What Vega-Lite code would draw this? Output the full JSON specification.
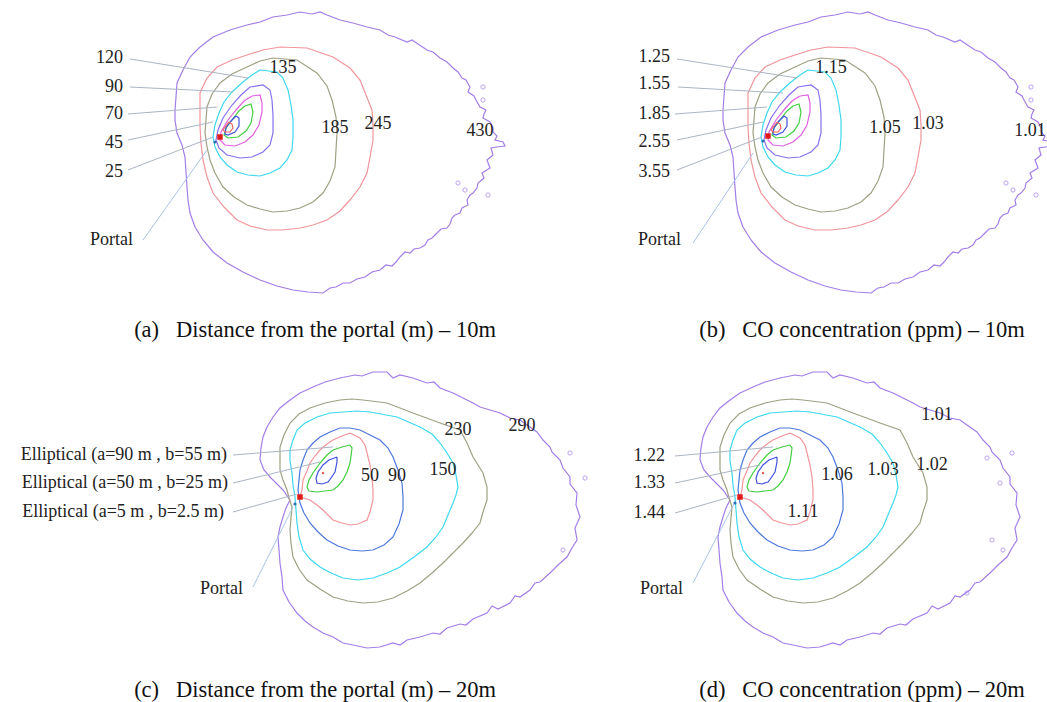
{
"$schema": "https://vega.github.io/schema/vega-lite/v6.json",
"width": 1047, "height": 702,
"autosize": {"type": "fit", "contains": "padding"},
"padding": 0,
"background": "white",
"config": {"view": {"stroke": null}},
"datasets": {
"lines": [
{"id":"a1","k":"v","x":247,"y":25},{"id":"a1","k":"v","x":260,"y":22},{"id":"a1","k":"v","x":273,"y":17},{"id":"a1","k":"v","x":287,"y":15},{"id":"a1","k":"v","x":300,"y":12},{"id":"a1","k":"v","x":312,"y":14},{"id":"a1","k":"v","x":320,"y":12},{"id":"a1","k":"v","x":327,"y":15},{"id":"a1","k":"v","x":340,"y":20},{"id":"a1","k":"v","x":353,"y":23},{"id":"a1","k":"v","x":367,"y":27},{"id":"a1","k":"v","x":380,"y":30},{"id":"a1","k":"v","x":388,"y":35},{"id":"a1","k":"v","x":395,"y":37},{"id":"a1","k":"v","x":407,"y":42},{"id":"a1","k":"v","x":412,"y":40},{"id":"a1","k":"v","x":418,"y":44},{"id":"a1","k":"v","x":427,"y":50},{"id":"a1","k":"v","x":433,"y":52},{"id":"a1","k":"v","x":440,"y":58},{"id":"a1","k":"v","x":447,"y":62},{"id":"a1","k":"v","x":453,"y":68},{"id":"a1","k":"v","x":458,"y":72},{"id":"a1","k":"v","x":462,"y":78},{"id":"a1","k":"v","x":466,"y":80},{"id":"a1","k":"v","x":470,"y":87},{"id":"a1","k":"v","x":468,"y":92},{"id":"a1","k":"v","x":474,"y":96},{"id":"a1","k":"v","x":476,"y":100},{"id":"a1","k":"v","x":480,"y":107},{"id":"a1","k":"v","x":486,"y":110},{"id":"a1","k":"v","x":484,"y":114},{"id":"a1","k":"v","x":483,"y":118},{"id":"a1","k":"v","x":490,"y":122},{"id":"a1","k":"v","x":493,"y":128},{"id":"a1","k":"v","x":493,"y":132},{"id":"a1","k":"v","x":497,"y":136},{"id":"a1","k":"v","x":495,"y":140},{"id":"a1","k":"v","x":503,"y":142},{"id":"a1","k":"v","x":505,"y":146},{"id":"a1","k":"v","x":497,"y":147},{"id":"a1","k":"v","x":491,"y":148},{"id":"a1","k":"v","x":493,"y":155},{"id":"a1","k":"v","x":487,"y":160},{"id":"a1","k":"v","x":490,"y":168},{"id":"a1","k":"v","x":482,"y":173},{"id":"a1","k":"v","x":484,"y":178},{"id":"a1","k":"v","x":478,"y":183},{"id":"a1","k":"v","x":477,"y":188},{"id":"a1","k":"v","x":473,"y":193},{"id":"a1","k":"v","x":470,"y":195},{"id":"a1","k":"v","x":467,"y":200},{"id":"a1","k":"v","x":468,"y":205},{"id":"a1","k":"v","x":462,"y":208},{"id":"a1","k":"v","x":460,"y":213},{"id":"a1","k":"v","x":455,"y":215},{"id":"a1","k":"v","x":452,"y":218},{"id":"a1","k":"v","x":450,"y":224},{"id":"a1","k":"v","x":447,"y":228},{"id":"a1","k":"v","x":441,"y":229},{"id":"a1","k":"v","x":437,"y":233},{"id":"a1","k":"v","x":432,"y":238},{"id":"a1","k":"v","x":428,"y":240},{"id":"a1","k":"v","x":425,"y":245},{"id":"a1","k":"v","x":420,"y":248},{"id":"a1","k":"v","x":414,"y":249},{"id":"a1","k":"v","x":410,"y":253},{"id":"a1","k":"v","x":405,"y":252},{"id":"a1","k":"v","x":400,"y":257},{"id":"a1","k":"v","x":396,"y":262},{"id":"a1","k":"v","x":392,"y":266},{"id":"a1","k":"v","x":386,"y":265},{"id":"a1","k":"v","x":380,"y":270},{"id":"a1","k":"v","x":372,"y":272},{"id":"a1","k":"v","x":365,"y":277},{"id":"a1","k":"v","x":357,"y":279},{"id":"a1","k":"v","x":350,"y":283},{"id":"a1","k":"v","x":343,"y":283},{"id":"a1","k":"v","x":336,"y":287},{"id":"a1","k":"v","x":330,"y":288},{"id":"a1","k":"v","x":323,"y":293},{"id":"a1","k":"v","x":308,"y":292},{"id":"a1","k":"v","x":293,"y":290},{"id":"a1","k":"v","x":277,"y":286},{"id":"a1","k":"v","x":260,"y":280},{"id":"a1","k":"v","x":243,"y":272},{"id":"a1","k":"v","x":227,"y":263},{"id":"a1","k":"v","x":213,"y":252},{"id":"a1","k":"v","x":203,"y":240},{"id":"a1","k":"v","x":195,"y":227},{"id":"a1","k":"v","x":190,"y":213},{"id":"a1","k":"v","x":188,"y":200},{"id":"a1","k":"v","x":187,"y":187},{"id":"a1","k":"v","x":186,"y":172},{"id":"a1","k":"v","x":185,"y":157},{"id":"a1","k":"v","x":182,"y":145},{"id":"a1","k":"v","x":177,"y":133},{"id":"a1","k":"v","x":175,"y":120},{"id":"a1","k":"v","x":175,"y":110},{"id":"a1","k":"v","x":176,"y":97},{"id":"a1","k":"v","x":177,"y":83},{"id":"a1","k":"v","x":183,"y":70},{"id":"a1","k":"v","x":190,"y":57},{"id":"a1","k":"v","x":200,"y":47},{"id":"a1","k":"v","x":213,"y":37},{"id":"a1","k":"v","x":230,"y":30},{"id":"a1","k":"v","x":247,"y":25},
{"id":"a2","k":"p","x":280,"y":47},{"id":"a2","k":"p","x":307,"y":48},{"id":"a2","k":"p","x":333,"y":57},{"id":"a2","k":"p","x":350,"y":68},{"id":"a2","k":"p","x":360,"y":80},{"id":"a2","k":"p","x":366,"y":95},{"id":"a2","k":"p","x":372,"y":110},{"id":"a2","k":"p","x":373,"y":125},{"id":"a2","k":"p","x":373,"y":140},{"id":"a2","k":"p","x":370,"y":157},{"id":"a2","k":"p","x":367,"y":173},{"id":"a2","k":"p","x":360,"y":187},{"id":"a2","k":"p","x":350,"y":200},{"id":"a2","k":"p","x":340,"y":211},{"id":"a2","k":"p","x":327,"y":220},{"id":"a2","k":"p","x":313,"y":225},{"id":"a2","k":"p","x":300,"y":228},{"id":"a2","k":"p","x":283,"y":230},{"id":"a2","k":"p","x":267,"y":230},{"id":"a2","k":"p","x":250,"y":226},{"id":"a2","k":"p","x":237,"y":220},{"id":"a2","k":"p","x":224,"y":207},{"id":"a2","k":"p","x":213,"y":193},{"id":"a2","k":"p","x":207,"y":177},{"id":"a2","k":"p","x":203,"y":160},{"id":"a2","k":"p","x":201,"y":143},{"id":"a2","k":"p","x":200,"y":127},{"id":"a2","k":"p","x":200,"y":110},{"id":"a2","k":"p","x":200,"y":93},{"id":"a2","k":"p","x":207,"y":78},{"id":"a2","k":"p","x":217,"y":67},{"id":"a2","k":"p","x":232,"y":60},{"id":"a2","k":"p","x":247,"y":55},{"id":"a2","k":"p","x":263,"y":50},{"id":"a2","k":"p","x":280,"y":47},
{"id":"a3","k":"o","x":273,"y":58},{"id":"a3","k":"o","x":297,"y":60},{"id":"a3","k":"o","x":317,"y":73},{"id":"a3","k":"o","x":327,"y":86},{"id":"a3","k":"o","x":332,"y":100},{"id":"a3","k":"o","x":336,"y":117},{"id":"a3","k":"o","x":337,"y":133},{"id":"a3","k":"o","x":336,"y":150},{"id":"a3","k":"o","x":335,"y":167},{"id":"a3","k":"o","x":330,"y":181},{"id":"a3","k":"o","x":323,"y":193},{"id":"a3","k":"o","x":313,"y":202},{"id":"a3","k":"o","x":300,"y":208},{"id":"a3","k":"o","x":287,"y":211},{"id":"a3","k":"o","x":273,"y":212},{"id":"a3","k":"o","x":260,"y":209},{"id":"a3","k":"o","x":247,"y":205},{"id":"a3","k":"o","x":234,"y":197},{"id":"a3","k":"o","x":223,"y":187},{"id":"a3","k":"o","x":215,"y":173},{"id":"a3","k":"o","x":210,"y":160},{"id":"a3","k":"o","x":207,"y":147},{"id":"a3","k":"o","x":205,"y":133},{"id":"a3","k":"o","x":206,"y":120},{"id":"a3","k":"o","x":207,"y":107},{"id":"a3","k":"o","x":212,"y":94},{"id":"a3","k":"o","x":220,"y":83},{"id":"a3","k":"o","x":232,"y":74},{"id":"a3","k":"o","x":247,"y":67},{"id":"a3","k":"o","x":260,"y":61},{"id":"a3","k":"o","x":273,"y":58},
{"id":"a4","k":"c","x":260,"y":70},{"id":"a4","k":"c","x":277,"y":72},{"id":"a4","k":"c","x":283,"y":78},{"id":"a4","k":"c","x":288,"y":90},{"id":"a4","k":"c","x":291,"y":105},{"id":"a4","k":"c","x":293,"y":120},{"id":"a4","k":"c","x":293,"y":137},{"id":"a4","k":"c","x":292,"y":150},{"id":"a4","k":"c","x":287,"y":160},{"id":"a4","k":"c","x":280,"y":168},{"id":"a4","k":"c","x":270,"y":173},{"id":"a4","k":"c","x":260,"y":176},{"id":"a4","k":"c","x":248,"y":175},{"id":"a4","k":"c","x":237,"y":172},{"id":"a4","k":"c","x":227,"y":165},{"id":"a4","k":"c","x":220,"y":157},{"id":"a4","k":"c","x":215,"y":147},{"id":"a4","k":"c","x":213,"y":137},{"id":"a4","k":"c","x":215,"y":125},{"id":"a4","k":"c","x":219,"y":113},{"id":"a4","k":"c","x":224,"y":102},{"id":"a4","k":"c","x":232,"y":92},{"id":"a4","k":"c","x":243,"y":82},{"id":"a4","k":"c","x":252,"y":75},{"id":"a4","k":"c","x":260,"y":70},
{"id":"a5","k":"l","x":250,"y":87},{"id":"a5","k":"l","x":263,"y":85},{"id":"a5","k":"l","x":270,"y":90},{"id":"a5","k":"l","x":272,"y":100},{"id":"a5","k":"l","x":273,"y":115},{"id":"a5","k":"l","x":273,"y":133},{"id":"a5","k":"l","x":270,"y":145},{"id":"a5","k":"l","x":263,"y":152},{"id":"a5","k":"l","x":252,"y":157},{"id":"a5","k":"l","x":240,"y":158},{"id":"a5","k":"l","x":227,"y":155},{"id":"a5","k":"l","x":219,"y":148},{"id":"a5","k":"l","x":216,"y":140},{"id":"a5","k":"l","x":218,"y":130},{"id":"a5","k":"l","x":223,"y":118},{"id":"a5","k":"l","x":232,"y":105},{"id":"a5","k":"l","x":241,"y":95},{"id":"a5","k":"l","x":250,"y":87},
{"id":"a6","k":"m","x":252,"y":96},{"id":"a6","k":"m","x":260,"y":95},{"id":"a6","k":"m","x":262,"y":103},{"id":"a6","k":"m","x":262,"y":112},{"id":"a6","k":"m","x":259,"y":125},{"id":"a6","k":"m","x":253,"y":135},{"id":"a6","k":"m","x":245,"y":142},{"id":"a6","k":"m","x":235,"y":146},{"id":"a6","k":"m","x":225,"y":145},{"id":"a6","k":"m","x":220,"y":140},{"id":"a6","k":"m","x":221,"y":132},{"id":"a6","k":"m","x":228,"y":120},{"id":"a6","k":"m","x":236,"y":110},{"id":"a6","k":"m","x":244,"y":101},{"id":"a6","k":"m","x":252,"y":96},
{"id":"a7","k":"g","x":245,"y":106},{"id":"a7","k":"g","x":251,"y":104},{"id":"a7","k":"g","x":253,"y":112},{"id":"a7","k":"g","x":251,"y":123},{"id":"a7","k":"g","x":246,"y":131},{"id":"a7","k":"g","x":238,"y":137},{"id":"a7","k":"g","x":228,"y":138},{"id":"a7","k":"g","x":224,"y":135},{"id":"a7","k":"g","x":226,"y":128},{"id":"a7","k":"g","x":232,"y":120},{"id":"a7","k":"g","x":239,"y":111},{"id":"a7","k":"g","x":245,"y":106},
{"id":"a8","k":"b","x":236,"y":116},{"id":"a8","k":"b","x":239,"y":118},{"id":"a8","k":"b","x":239,"y":126},{"id":"a8","k":"b","x":235,"y":132},{"id":"a8","k":"b","x":228,"y":135},{"id":"a8","k":"b","x":225,"y":134},{"id":"a8","k":"b","x":226,"y":128},{"id":"a8","k":"b","x":230,"y":122},{"id":"a8","k":"b","x":236,"y":116},
{"id":"a9","k":"r","x":229,"y":122},{"id":"a9","k":"r","x":232,"y":124},{"id":"a9","k":"r","x":233,"y":128},{"id":"a9","k":"r","x":230,"y":132},{"id":"a9","k":"r","x":225,"y":132},{"id":"a9","k":"r","x":223,"y":130},{"id":"a9","k":"r","x":226,"y":126},{"id":"a9","k":"r","x":229,"y":122},
{"id":"b1","k":"v","x":795,"y":25},{"id":"b1","k":"v","x":808,"y":22},{"id":"b1","k":"v","x":821,"y":17},{"id":"b1","k":"v","x":835,"y":15},{"id":"b1","k":"v","x":848,"y":12},{"id":"b1","k":"v","x":860,"y":14},{"id":"b1","k":"v","x":868,"y":12},{"id":"b1","k":"v","x":875,"y":15},{"id":"b1","k":"v","x":888,"y":20},{"id":"b1","k":"v","x":901,"y":23},{"id":"b1","k":"v","x":915,"y":27},{"id":"b1","k":"v","x":928,"y":30},{"id":"b1","k":"v","x":936,"y":35},{"id":"b1","k":"v","x":943,"y":37},{"id":"b1","k":"v","x":955,"y":42},{"id":"b1","k":"v","x":960,"y":40},{"id":"b1","k":"v","x":966,"y":44},{"id":"b1","k":"v","x":975,"y":50},{"id":"b1","k":"v","x":981,"y":52},{"id":"b1","k":"v","x":988,"y":58},{"id":"b1","k":"v","x":995,"y":62},{"id":"b1","k":"v","x":1001,"y":68},{"id":"b1","k":"v","x":1006,"y":72},{"id":"b1","k":"v","x":1010,"y":78},{"id":"b1","k":"v","x":1014,"y":80},{"id":"b1","k":"v","x":1018,"y":87},{"id":"b1","k":"v","x":1016,"y":92},{"id":"b1","k":"v","x":1022,"y":96},{"id":"b1","k":"v","x":1024,"y":100},{"id":"b1","k":"v","x":1028,"y":107},{"id":"b1","k":"v","x":1034,"y":110},{"id":"b1","k":"v","x":1032,"y":114},{"id":"b1","k":"v","x":1031,"y":118},{"id":"b1","k":"v","x":1038,"y":122},{"id":"b1","k":"v","x":1041,"y":128},{"id":"b1","k":"v","x":1041,"y":132},{"id":"b1","k":"v","x":1045,"y":136},{"id":"b1","k":"v","x":1043,"y":140},{"id":"b1","k":"v","x":1051,"y":142},{"id":"b1","k":"v","x":1053,"y":146},{"id":"b1","k":"v","x":1045,"y":147},{"id":"b1","k":"v","x":1039,"y":148},{"id":"b1","k":"v","x":1041,"y":155},{"id":"b1","k":"v","x":1035,"y":160},{"id":"b1","k":"v","x":1038,"y":168},{"id":"b1","k":"v","x":1030,"y":173},{"id":"b1","k":"v","x":1032,"y":178},{"id":"b1","k":"v","x":1026,"y":183},{"id":"b1","k":"v","x":1025,"y":188},{"id":"b1","k":"v","x":1021,"y":193},{"id":"b1","k":"v","x":1018,"y":195},{"id":"b1","k":"v","x":1015,"y":200},{"id":"b1","k":"v","x":1016,"y":205},{"id":"b1","k":"v","x":1010,"y":208},{"id":"b1","k":"v","x":1008,"y":213},{"id":"b1","k":"v","x":1003,"y":215},{"id":"b1","k":"v","x":1000,"y":218},{"id":"b1","k":"v","x":998,"y":224},{"id":"b1","k":"v","x":995,"y":228},{"id":"b1","k":"v","x":989,"y":229},{"id":"b1","k":"v","x":985,"y":233},{"id":"b1","k":"v","x":980,"y":238},{"id":"b1","k":"v","x":976,"y":240},{"id":"b1","k":"v","x":973,"y":245},{"id":"b1","k":"v","x":968,"y":248},{"id":"b1","k":"v","x":962,"y":249},{"id":"b1","k":"v","x":958,"y":253},{"id":"b1","k":"v","x":953,"y":252},{"id":"b1","k":"v","x":948,"y":257},{"id":"b1","k":"v","x":944,"y":262},{"id":"b1","k":"v","x":940,"y":266},{"id":"b1","k":"v","x":934,"y":265},{"id":"b1","k":"v","x":928,"y":270},{"id":"b1","k":"v","x":920,"y":272},{"id":"b1","k":"v","x":913,"y":277},{"id":"b1","k":"v","x":905,"y":279},{"id":"b1","k":"v","x":898,"y":283},{"id":"b1","k":"v","x":891,"y":283},{"id":"b1","k":"v","x":884,"y":287},{"id":"b1","k":"v","x":878,"y":288},{"id":"b1","k":"v","x":871,"y":293},{"id":"b1","k":"v","x":856,"y":292},{"id":"b1","k":"v","x":841,"y":290},{"id":"b1","k":"v","x":825,"y":286},{"id":"b1","k":"v","x":808,"y":280},{"id":"b1","k":"v","x":791,"y":272},{"id":"b1","k":"v","x":775,"y":263},{"id":"b1","k":"v","x":761,"y":252},{"id":"b1","k":"v","x":751,"y":240},{"id":"b1","k":"v","x":743,"y":227},{"id":"b1","k":"v","x":738,"y":213},{"id":"b1","k":"v","x":736,"y":200},{"id":"b1","k":"v","x":735,"y":187},{"id":"b1","k":"v","x":734,"y":172},{"id":"b1","k":"v","x":733,"y":157},{"id":"b1","k":"v","x":730,"y":145},{"id":"b1","k":"v","x":725,"y":133},{"id":"b1","k":"v","x":723,"y":120},{"id":"b1","k":"v","x":723,"y":110},{"id":"b1","k":"v","x":724,"y":97},{"id":"b1","k":"v","x":725,"y":83},{"id":"b1","k":"v","x":731,"y":70},{"id":"b1","k":"v","x":738,"y":57},{"id":"b1","k":"v","x":748,"y":47},{"id":"b1","k":"v","x":761,"y":37},{"id":"b1","k":"v","x":778,"y":30},{"id":"b1","k":"v","x":795,"y":25},
{"id":"b2","k":"p","x":828,"y":47},{"id":"b2","k":"p","x":855,"y":48},{"id":"b2","k":"p","x":881,"y":57},{"id":"b2","k":"p","x":898,"y":68},{"id":"b2","k":"p","x":908,"y":80},{"id":"b2","k":"p","x":914,"y":95},{"id":"b2","k":"p","x":920,"y":110},{"id":"b2","k":"p","x":921,"y":125},{"id":"b2","k":"p","x":921,"y":140},{"id":"b2","k":"p","x":918,"y":157},{"id":"b2","k":"p","x":915,"y":173},{"id":"b2","k":"p","x":908,"y":187},{"id":"b2","k":"p","x":898,"y":200},{"id":"b2","k":"p","x":888,"y":211},{"id":"b2","k":"p","x":875,"y":220},{"id":"b2","k":"p","x":861,"y":225},{"id":"b2","k":"p","x":848,"y":228},{"id":"b2","k":"p","x":831,"y":230},{"id":"b2","k":"p","x":815,"y":230},{"id":"b2","k":"p","x":798,"y":226},{"id":"b2","k":"p","x":785,"y":220},{"id":"b2","k":"p","x":772,"y":207},{"id":"b2","k":"p","x":761,"y":193},{"id":"b2","k":"p","x":755,"y":177},{"id":"b2","k":"p","x":751,"y":160},{"id":"b2","k":"p","x":749,"y":143},{"id":"b2","k":"p","x":748,"y":127},{"id":"b2","k":"p","x":748,"y":110},{"id":"b2","k":"p","x":748,"y":93},{"id":"b2","k":"p","x":755,"y":78},{"id":"b2","k":"p","x":765,"y":67},{"id":"b2","k":"p","x":780,"y":60},{"id":"b2","k":"p","x":795,"y":55},{"id":"b2","k":"p","x":811,"y":50},{"id":"b2","k":"p","x":828,"y":47},
{"id":"b3","k":"o","x":821,"y":58},{"id":"b3","k":"o","x":845,"y":60},{"id":"b3","k":"o","x":865,"y":73},{"id":"b3","k":"o","x":875,"y":86},{"id":"b3","k":"o","x":880,"y":100},{"id":"b3","k":"o","x":884,"y":117},{"id":"b3","k":"o","x":885,"y":133},{"id":"b3","k":"o","x":884,"y":150},{"id":"b3","k":"o","x":883,"y":167},{"id":"b3","k":"o","x":878,"y":181},{"id":"b3","k":"o","x":871,"y":193},{"id":"b3","k":"o","x":861,"y":202},{"id":"b3","k":"o","x":848,"y":208},{"id":"b3","k":"o","x":835,"y":211},{"id":"b3","k":"o","x":821,"y":212},{"id":"b3","k":"o","x":808,"y":209},{"id":"b3","k":"o","x":795,"y":205},{"id":"b3","k":"o","x":782,"y":197},{"id":"b3","k":"o","x":771,"y":187},{"id":"b3","k":"o","x":763,"y":173},{"id":"b3","k":"o","x":758,"y":160},{"id":"b3","k":"o","x":755,"y":147},{"id":"b3","k":"o","x":753,"y":133},{"id":"b3","k":"o","x":754,"y":120},{"id":"b3","k":"o","x":755,"y":107},{"id":"b3","k":"o","x":760,"y":94},{"id":"b3","k":"o","x":768,"y":83},{"id":"b3","k":"o","x":780,"y":74},{"id":"b3","k":"o","x":795,"y":67},{"id":"b3","k":"o","x":808,"y":61},{"id":"b3","k":"o","x":821,"y":58},
{"id":"b4","k":"c","x":808,"y":70},{"id":"b4","k":"c","x":825,"y":72},{"id":"b4","k":"c","x":831,"y":78},{"id":"b4","k":"c","x":836,"y":90},{"id":"b4","k":"c","x":839,"y":105},{"id":"b4","k":"c","x":841,"y":120},{"id":"b4","k":"c","x":841,"y":137},{"id":"b4","k":"c","x":840,"y":150},{"id":"b4","k":"c","x":835,"y":160},{"id":"b4","k":"c","x":828,"y":168},{"id":"b4","k":"c","x":818,"y":173},{"id":"b4","k":"c","x":808,"y":176},{"id":"b4","k":"c","x":796,"y":175},{"id":"b4","k":"c","x":785,"y":172},{"id":"b4","k":"c","x":775,"y":165},{"id":"b4","k":"c","x":768,"y":157},{"id":"b4","k":"c","x":763,"y":147},{"id":"b4","k":"c","x":761,"y":137},{"id":"b4","k":"c","x":763,"y":125},{"id":"b4","k":"c","x":767,"y":113},{"id":"b4","k":"c","x":772,"y":102},{"id":"b4","k":"c","x":780,"y":92},{"id":"b4","k":"c","x":791,"y":82},{"id":"b4","k":"c","x":800,"y":75},{"id":"b4","k":"c","x":808,"y":70},
{"id":"b5","k":"l","x":798,"y":87},{"id":"b5","k":"l","x":811,"y":85},{"id":"b5","k":"l","x":818,"y":90},{"id":"b5","k":"l","x":820,"y":100},{"id":"b5","k":"l","x":821,"y":115},{"id":"b5","k":"l","x":821,"y":133},{"id":"b5","k":"l","x":818,"y":145},{"id":"b5","k":"l","x":811,"y":152},{"id":"b5","k":"l","x":800,"y":157},{"id":"b5","k":"l","x":788,"y":158},{"id":"b5","k":"l","x":775,"y":155},{"id":"b5","k":"l","x":767,"y":148},{"id":"b5","k":"l","x":764,"y":140},{"id":"b5","k":"l","x":766,"y":130},{"id":"b5","k":"l","x":771,"y":118},{"id":"b5","k":"l","x":780,"y":105},{"id":"b5","k":"l","x":789,"y":95},{"id":"b5","k":"l","x":798,"y":87},
{"id":"b6","k":"m","x":800,"y":96},{"id":"b6","k":"m","x":808,"y":95},{"id":"b6","k":"m","x":810,"y":103},{"id":"b6","k":"m","x":810,"y":112},{"id":"b6","k":"m","x":807,"y":125},{"id":"b6","k":"m","x":801,"y":135},{"id":"b6","k":"m","x":793,"y":142},{"id":"b6","k":"m","x":783,"y":146},{"id":"b6","k":"m","x":773,"y":145},{"id":"b6","k":"m","x":768,"y":140},{"id":"b6","k":"m","x":769,"y":132},{"id":"b6","k":"m","x":776,"y":120},{"id":"b6","k":"m","x":784,"y":110},{"id":"b6","k":"m","x":792,"y":101},{"id":"b6","k":"m","x":800,"y":96},
{"id":"b7","k":"g","x":793,"y":106},{"id":"b7","k":"g","x":799,"y":104},{"id":"b7","k":"g","x":801,"y":112},{"id":"b7","k":"g","x":799,"y":123},{"id":"b7","k":"g","x":794,"y":131},{"id":"b7","k":"g","x":786,"y":137},{"id":"b7","k":"g","x":776,"y":138},{"id":"b7","k":"g","x":772,"y":135},{"id":"b7","k":"g","x":774,"y":128},{"id":"b7","k":"g","x":780,"y":120},{"id":"b7","k":"g","x":787,"y":111},{"id":"b7","k":"g","x":793,"y":106},
{"id":"b8","k":"b","x":784,"y":116},{"id":"b8","k":"b","x":787,"y":118},{"id":"b8","k":"b","x":787,"y":126},{"id":"b8","k":"b","x":783,"y":132},{"id":"b8","k":"b","x":776,"y":135},{"id":"b8","k":"b","x":773,"y":134},{"id":"b8","k":"b","x":774,"y":128},{"id":"b8","k":"b","x":778,"y":122},{"id":"b8","k":"b","x":784,"y":116},
{"id":"b9","k":"r","x":777,"y":122},{"id":"b9","k":"r","x":780,"y":124},{"id":"b9","k":"r","x":781,"y":128},{"id":"b9","k":"r","x":778,"y":132},{"id":"b9","k":"r","x":773,"y":132},{"id":"b9","k":"r","x":771,"y":130},{"id":"b9","k":"r","x":774,"y":126},{"id":"b9","k":"r","x":777,"y":122},
{"id":"c1","k":"v","x":373,"y":372},{"id":"c1","k":"v","x":362,"y":376},{"id":"c1","k":"v","x":355,"y":375},{"id":"c1","k":"v","x":340,"y":378},{"id":"c1","k":"v","x":325,"y":382},{"id":"c1","k":"v","x":313,"y":387},{"id":"c1","k":"v","x":300,"y":393},{"id":"c1","k":"v","x":290,"y":400},{"id":"c1","k":"v","x":280,"y":408},{"id":"c1","k":"v","x":273,"y":417},{"id":"c1","k":"v","x":267,"y":427},{"id":"c1","k":"v","x":263,"y":437},{"id":"c1","k":"v","x":261,"y":448},{"id":"c1","k":"v","x":260,"y":460},{"id":"c1","k":"v","x":264,"y":470},{"id":"c1","k":"v","x":270,"y":477},{"id":"c1","k":"v","x":277,"y":484},{"id":"c1","k":"v","x":283,"y":490},{"id":"c1","k":"v","x":290,"y":500},{"id":"c1","k":"v","x":286,"y":508},{"id":"c1","k":"v","x":283,"y":517},{"id":"c1","k":"v","x":280,"y":527},{"id":"c1","k":"v","x":278,"y":537},{"id":"c1","k":"v","x":279,"y":550},{"id":"c1","k":"v","x":280,"y":563},{"id":"c1","k":"v","x":282,"y":577},{"id":"c1","k":"v","x":283,"y":590},{"id":"c1","k":"v","x":289,"y":602},{"id":"c1","k":"v","x":297,"y":613},{"id":"c1","k":"v","x":305,"y":621},{"id":"c1","k":"v","x":313,"y":627},{"id":"c1","k":"v","x":323,"y":633},{"id":"c1","k":"v","x":333,"y":637},{"id":"c1","k":"v","x":343,"y":643},{"id":"c1","k":"v","x":353,"y":645},{"id":"c1","k":"v","x":367,"y":648},{"id":"c1","k":"v","x":380,"y":647},{"id":"c1","k":"v","x":393,"y":643},{"id":"c1","k":"v","x":400,"y":645},{"id":"c1","k":"v","x":407,"y":640},{"id":"c1","k":"v","x":420,"y":637},{"id":"c1","k":"v","x":433,"y":633},{"id":"c1","k":"v","x":440,"y":634},{"id":"c1","k":"v","x":447,"y":628},{"id":"c1","k":"v","x":460,"y":624},{"id":"c1","k":"v","x":466,"y":625},{"id":"c1","k":"v","x":473,"y":619},{"id":"c1","k":"v","x":487,"y":613},{"id":"c1","k":"v","x":492,"y":606},{"id":"c1","k":"v","x":498,"y":609},{"id":"c1","k":"v","x":510,"y":603},{"id":"c1","k":"v","x":515,"y":596},{"id":"c1","k":"v","x":520,"y":597},{"id":"c1","k":"v","x":530,"y":590},{"id":"c1","k":"v","x":535,"y":583},{"id":"c1","k":"v","x":540,"y":582},{"id":"c1","k":"v","x":550,"y":573},{"id":"c1","k":"v","x":558,"y":565},{"id":"c1","k":"v","x":567,"y":557},{"id":"c1","k":"v","x":572,"y":548},{"id":"c1","k":"v","x":577,"y":540},{"id":"c1","k":"v","x":575,"y":528},{"id":"c1","k":"v","x":580,"y":517},{"id":"c1","k":"v","x":576,"y":505},{"id":"c1","k":"v","x":577,"y":493},{"id":"c1","k":"v","x":570,"y":484},{"id":"c1","k":"v","x":570,"y":477},{"id":"c1","k":"v","x":563,"y":468},{"id":"c1","k":"v","x":560,"y":460},{"id":"c1","k":"v","x":552,"y":452},{"id":"c1","k":"v","x":550,"y":447},{"id":"c1","k":"v","x":543,"y":440},{"id":"c1","k":"v","x":537,"y":432},{"id":"c1","k":"v","x":527,"y":425},{"id":"c1","k":"v","x":520,"y":420},{"id":"c1","k":"v","x":510,"y":418},{"id":"c1","k":"v","x":500,"y":413},{"id":"c1","k":"v","x":490,"y":410},{"id":"c1","k":"v","x":480,"y":407},{"id":"c1","k":"v","x":473,"y":403},{"id":"c1","k":"v","x":463,"y":398},{"id":"c1","k":"v","x":453,"y":393},{"id":"c1","k":"v","x":440,"y":388},{"id":"c1","k":"v","x":434,"y":382},{"id":"c1","k":"v","x":427,"y":383},{"id":"c1","k":"v","x":413,"y":378},{"id":"c1","k":"v","x":400,"y":375},{"id":"c1","k":"v","x":393,"y":378},{"id":"c1","k":"v","x":387,"y":372},{"id":"c1","k":"v","x":373,"y":372},
{"id":"c2","k":"o","x":363,"y":400},{"id":"c2","k":"o","x":387,"y":403},{"id":"c2","k":"o","x":413,"y":413},{"id":"c2","k":"o","x":440,"y":423},{"id":"c2","k":"o","x":460,"y":430},{"id":"c2","k":"o","x":467,"y":443},{"id":"c2","k":"o","x":473,"y":457},{"id":"c2","k":"o","x":483,"y":473},{"id":"c2","k":"o","x":487,"y":487},{"id":"c2","k":"o","x":487,"y":500},{"id":"c2","k":"o","x":483,"y":512},{"id":"c2","k":"o","x":480,"y":523},{"id":"c2","k":"o","x":472,"y":533},{"id":"c2","k":"o","x":463,"y":543},{"id":"c2","k":"o","x":453,"y":553},{"id":"c2","k":"o","x":443,"y":563},{"id":"c2","k":"o","x":432,"y":573},{"id":"c2","k":"o","x":420,"y":583},{"id":"c2","k":"o","x":407,"y":591},{"id":"c2","k":"o","x":393,"y":598},{"id":"c2","k":"o","x":378,"y":602},{"id":"c2","k":"o","x":363,"y":603},{"id":"c2","k":"o","x":348,"y":601},{"id":"c2","k":"o","x":333,"y":597},{"id":"c2","k":"o","x":320,"y":589},{"id":"c2","k":"o","x":307,"y":580},{"id":"c2","k":"o","x":299,"y":569},{"id":"c2","k":"o","x":293,"y":557},{"id":"c2","k":"o","x":291,"y":543},{"id":"c2","k":"o","x":290,"y":530},{"id":"c2","k":"o","x":291,"y":518},{"id":"c2","k":"o","x":292,"y":507},{"id":"c2","k":"o","x":289,"y":498},{"id":"c2","k":"o","x":287,"y":490},{"id":"c2","k":"o","x":283,"y":480},{"id":"c2","k":"o","x":280,"y":470},{"id":"c2","k":"o","x":280,"y":458},{"id":"c2","k":"o","x":280,"y":447},{"id":"c2","k":"o","x":284,"y":435},{"id":"c2","k":"o","x":290,"y":423},{"id":"c2","k":"o","x":299,"y":414},{"id":"c2","k":"o","x":310,"y":408},{"id":"c2","k":"o","x":325,"y":403},{"id":"c2","k":"o","x":340,"y":400},{"id":"c2","k":"o","x":352,"y":399},{"id":"c2","k":"o","x":363,"y":400},
{"id":"c3","k":"c","x":370,"y":412},{"id":"c3","k":"c","x":397,"y":417},{"id":"c3","k":"c","x":420,"y":427},{"id":"c3","k":"c","x":432,"y":434},{"id":"c3","k":"c","x":440,"y":443},{"id":"c3","k":"c","x":447,"y":453},{"id":"c3","k":"c","x":453,"y":463},{"id":"c3","k":"c","x":456,"y":475},{"id":"c3","k":"c","x":458,"y":487},{"id":"c3","k":"c","x":456,"y":495},{"id":"c3","k":"c","x":453,"y":503},{"id":"c3","k":"c","x":448,"y":515},{"id":"c3","k":"c","x":443,"y":527},{"id":"c3","k":"c","x":436,"y":537},{"id":"c3","k":"c","x":427,"y":547},{"id":"c3","k":"c","x":414,"y":557},{"id":"c3","k":"c","x":400,"y":567},{"id":"c3","k":"c","x":387,"y":573},{"id":"c3","k":"c","x":373,"y":578},{"id":"c3","k":"c","x":358,"y":580},{"id":"c3","k":"c","x":343,"y":578},{"id":"c3","k":"c","x":331,"y":573},{"id":"c3","k":"c","x":320,"y":567},{"id":"c3","k":"c","x":310,"y":559},{"id":"c3","k":"c","x":303,"y":550},{"id":"c3","k":"c","x":299,"y":537},{"id":"c3","k":"c","x":297,"y":523},{"id":"c3","k":"c","x":296,"y":510},{"id":"c3","k":"c","x":295,"y":497},{"id":"c3","k":"c","x":293,"y":485},{"id":"c3","k":"c","x":292,"y":473},{"id":"c3","k":"c","x":290,"y":461},{"id":"c3","k":"c","x":290,"y":450},{"id":"c3","k":"c","x":293,"y":440},{"id":"c3","k":"c","x":297,"y":430},{"id":"c3","k":"c","x":305,"y":423},{"id":"c3","k":"c","x":317,"y":417},{"id":"c3","k":"c","x":330,"y":413},{"id":"c3","k":"c","x":343,"y":412},{"id":"c3","k":"c","x":357,"y":411},{"id":"c3","k":"c","x":370,"y":412},
{"id":"c4","k":"b2","x":360,"y":430},{"id":"c4","k":"b2","x":380,"y":440},{"id":"c4","k":"b2","x":388,"y":448},{"id":"c4","k":"b2","x":393,"y":457},{"id":"c4","k":"b2","x":398,"y":470},{"id":"c4","k":"b2","x":402,"y":483},{"id":"c4","k":"b2","x":403,"y":497},{"id":"c4","k":"b2","x":403,"y":510},{"id":"c4","k":"b2","x":399,"y":524},{"id":"c4","k":"b2","x":393,"y":537},{"id":"c4","k":"b2","x":384,"y":545},{"id":"c4","k":"b2","x":373,"y":550},{"id":"c4","k":"b2","x":362,"y":551},{"id":"c4","k":"b2","x":350,"y":550},{"id":"c4","k":"b2","x":338,"y":546},{"id":"c4","k":"b2","x":327,"y":540},{"id":"c4","k":"b2","x":318,"y":532},{"id":"c4","k":"b2","x":310,"y":523},{"id":"c4","k":"b2","x":304,"y":513},{"id":"c4","k":"b2","x":300,"y":503},{"id":"c4","k":"b2","x":298,"y":490},{"id":"c4","k":"b2","x":299,"y":480},{"id":"c4","k":"b2","x":300,"y":470},{"id":"c4","k":"b2","x":303,"y":460},{"id":"c4","k":"b2","x":307,"y":450},{"id":"c4","k":"b2","x":313,"y":443},{"id":"c4","k":"b2","x":320,"y":437},{"id":"c4","k":"b2","x":330,"y":432},{"id":"c4","k":"b2","x":340,"y":428},{"id":"c4","k":"b2","x":350,"y":428},{"id":"c4","k":"b2","x":360,"y":430},
{"id":"c5","k":"p","x":350,"y":433},{"id":"c5","k":"p","x":360,"y":438},{"id":"c5","k":"p","x":365,"y":445},{"id":"c5","k":"p","x":367,"y":453},{"id":"c5","k":"p","x":370,"y":465},{"id":"c5","k":"p","x":372,"y":477},{"id":"c5","k":"p","x":373,"y":490},{"id":"c5","k":"p","x":373,"y":500},{"id":"c5","k":"p","x":370,"y":512},{"id":"c5","k":"p","x":367,"y":520},{"id":"c5","k":"p","x":358,"y":524},{"id":"c5","k":"p","x":350,"y":525},{"id":"c5","k":"p","x":342,"y":523},{"id":"c5","k":"p","x":333,"y":520},{"id":"c5","k":"p","x":328,"y":515},{"id":"c5","k":"p","x":323,"y":510},{"id":"c5","k":"p","x":317,"y":505},{"id":"c5","k":"p","x":310,"y":500},{"id":"c5","k":"p","x":300,"y":497},{"id":"c5","k":"p","x":302,"y":490},{"id":"c5","k":"p","x":303,"y":480},{"id":"c5","k":"p","x":307,"y":471},{"id":"c5","k":"p","x":310,"y":463},{"id":"c5","k":"p","x":315,"y":456},{"id":"c5","k":"p","x":320,"y":450},{"id":"c5","k":"p","x":327,"y":444},{"id":"c5","k":"p","x":333,"y":440},{"id":"c5","k":"p","x":342,"y":436},{"id":"c5","k":"p","x":350,"y":433},
{"id":"c6","k":"g","x":350,"y":445},{"id":"c6","k":"g","x":352,"y":448},{"id":"c6","k":"g","x":351,"y":456},{"id":"c6","k":"g","x":350,"y":463},{"id":"c6","k":"g","x":347,"y":472},{"id":"c6","k":"g","x":343,"y":480},{"id":"c6","k":"g","x":338,"y":486},{"id":"c6","k":"g","x":333,"y":490},{"id":"c6","k":"g","x":325,"y":491},{"id":"c6","k":"g","x":317,"y":492},{"id":"c6","k":"g","x":309,"y":491},{"id":"c6","k":"g","x":307,"y":487},{"id":"c6","k":"g","x":309,"y":480},{"id":"c6","k":"g","x":313,"y":473},{"id":"c6","k":"g","x":320,"y":463},{"id":"c6","k":"g","x":327,"y":455},{"id":"c6","k":"g","x":333,"y":450},{"id":"c6","k":"g","x":342,"y":447},{"id":"c6","k":"g","x":350,"y":445},
{"id":"c7","k":"b","x":337,"y":457},{"id":"c7","k":"b","x":337,"y":462},{"id":"c7","k":"b","x":335,"y":472},{"id":"c7","k":"b","x":331,"y":478},{"id":"c7","k":"b","x":328,"y":482},{"id":"c7","k":"b","x":322,"y":484},{"id":"c7","k":"b","x":317,"y":483},{"id":"c7","k":"b","x":316,"y":478},{"id":"c7","k":"b","x":318,"y":472},{"id":"c7","k":"b","x":323,"y":465},{"id":"c7","k":"b","x":329,"y":460},{"id":"c7","k":"b","x":337,"y":457},
{"id":"d1","k":"v","x":813,"y":372},{"id":"d1","k":"v","x":802,"y":376},{"id":"d1","k":"v","x":795,"y":375},{"id":"d1","k":"v","x":780,"y":378},{"id":"d1","k":"v","x":765,"y":382},{"id":"d1","k":"v","x":753,"y":387},{"id":"d1","k":"v","x":740,"y":393},{"id":"d1","k":"v","x":730,"y":400},{"id":"d1","k":"v","x":720,"y":408},{"id":"d1","k":"v","x":713,"y":417},{"id":"d1","k":"v","x":707,"y":427},{"id":"d1","k":"v","x":703,"y":437},{"id":"d1","k":"v","x":701,"y":448},{"id":"d1","k":"v","x":700,"y":460},{"id":"d1","k":"v","x":704,"y":470},{"id":"d1","k":"v","x":710,"y":477},{"id":"d1","k":"v","x":717,"y":484},{"id":"d1","k":"v","x":723,"y":490},{"id":"d1","k":"v","x":730,"y":500},{"id":"d1","k":"v","x":726,"y":508},{"id":"d1","k":"v","x":723,"y":517},{"id":"d1","k":"v","x":720,"y":527},{"id":"d1","k":"v","x":718,"y":537},{"id":"d1","k":"v","x":719,"y":550},{"id":"d1","k":"v","x":720,"y":563},{"id":"d1","k":"v","x":722,"y":577},{"id":"d1","k":"v","x":723,"y":590},{"id":"d1","k":"v","x":729,"y":602},{"id":"d1","k":"v","x":737,"y":613},{"id":"d1","k":"v","x":745,"y":621},{"id":"d1","k":"v","x":753,"y":627},{"id":"d1","k":"v","x":763,"y":633},{"id":"d1","k":"v","x":773,"y":637},{"id":"d1","k":"v","x":783,"y":643},{"id":"d1","k":"v","x":793,"y":645},{"id":"d1","k":"v","x":807,"y":648},{"id":"d1","k":"v","x":820,"y":647},{"id":"d1","k":"v","x":833,"y":643},{"id":"d1","k":"v","x":840,"y":645},{"id":"d1","k":"v","x":847,"y":640},{"id":"d1","k":"v","x":860,"y":637},{"id":"d1","k":"v","x":873,"y":633},{"id":"d1","k":"v","x":880,"y":634},{"id":"d1","k":"v","x":887,"y":628},{"id":"d1","k":"v","x":900,"y":624},{"id":"d1","k":"v","x":906,"y":625},{"id":"d1","k":"v","x":913,"y":619},{"id":"d1","k":"v","x":927,"y":613},{"id":"d1","k":"v","x":932,"y":606},{"id":"d1","k":"v","x":938,"y":609},{"id":"d1","k":"v","x":950,"y":603},{"id":"d1","k":"v","x":955,"y":596},{"id":"d1","k":"v","x":960,"y":597},{"id":"d1","k":"v","x":970,"y":590},{"id":"d1","k":"v","x":975,"y":583},{"id":"d1","k":"v","x":980,"y":582},{"id":"d1","k":"v","x":990,"y":573},{"id":"d1","k":"v","x":998,"y":565},{"id":"d1","k":"v","x":1007,"y":557},{"id":"d1","k":"v","x":1012,"y":548},{"id":"d1","k":"v","x":1017,"y":540},{"id":"d1","k":"v","x":1015,"y":528},{"id":"d1","k":"v","x":1020,"y":517},{"id":"d1","k":"v","x":1016,"y":505},{"id":"d1","k":"v","x":1017,"y":493},{"id":"d1","k":"v","x":1010,"y":484},{"id":"d1","k":"v","x":1010,"y":477},{"id":"d1","k":"v","x":1003,"y":468},{"id":"d1","k":"v","x":1000,"y":460},{"id":"d1","k":"v","x":992,"y":452},{"id":"d1","k":"v","x":990,"y":447},{"id":"d1","k":"v","x":983,"y":440},{"id":"d1","k":"v","x":977,"y":432},{"id":"d1","k":"v","x":967,"y":425},{"id":"d1","k":"v","x":960,"y":420},{"id":"d1","k":"v","x":950,"y":418},{"id":"d1","k":"v","x":940,"y":413},{"id":"d1","k":"v","x":930,"y":410},{"id":"d1","k":"v","x":920,"y":407},{"id":"d1","k":"v","x":913,"y":403},{"id":"d1","k":"v","x":903,"y":398},{"id":"d1","k":"v","x":893,"y":393},{"id":"d1","k":"v","x":880,"y":388},{"id":"d1","k":"v","x":874,"y":382},{"id":"d1","k":"v","x":867,"y":383},{"id":"d1","k":"v","x":853,"y":378},{"id":"d1","k":"v","x":840,"y":375},{"id":"d1","k":"v","x":833,"y":378},{"id":"d1","k":"v","x":827,"y":372},{"id":"d1","k":"v","x":813,"y":372},
{"id":"d2","k":"o","x":803,"y":400},{"id":"d2","k":"o","x":827,"y":403},{"id":"d2","k":"o","x":853,"y":413},{"id":"d2","k":"o","x":880,"y":423},{"id":"d2","k":"o","x":900,"y":430},{"id":"d2","k":"o","x":907,"y":443},{"id":"d2","k":"o","x":913,"y":457},{"id":"d2","k":"o","x":923,"y":473},{"id":"d2","k":"o","x":927,"y":487},{"id":"d2","k":"o","x":927,"y":500},{"id":"d2","k":"o","x":923,"y":512},{"id":"d2","k":"o","x":920,"y":523},{"id":"d2","k":"o","x":912,"y":533},{"id":"d2","k":"o","x":903,"y":543},{"id":"d2","k":"o","x":893,"y":553},{"id":"d2","k":"o","x":883,"y":563},{"id":"d2","k":"o","x":872,"y":573},{"id":"d2","k":"o","x":860,"y":583},{"id":"d2","k":"o","x":847,"y":591},{"id":"d2","k":"o","x":833,"y":598},{"id":"d2","k":"o","x":818,"y":602},{"id":"d2","k":"o","x":803,"y":603},{"id":"d2","k":"o","x":788,"y":601},{"id":"d2","k":"o","x":773,"y":597},{"id":"d2","k":"o","x":760,"y":589},{"id":"d2","k":"o","x":747,"y":580},{"id":"d2","k":"o","x":739,"y":569},{"id":"d2","k":"o","x":733,"y":557},{"id":"d2","k":"o","x":731,"y":543},{"id":"d2","k":"o","x":730,"y":530},{"id":"d2","k":"o","x":731,"y":518},{"id":"d2","k":"o","x":732,"y":507},{"id":"d2","k":"o","x":729,"y":498},{"id":"d2","k":"o","x":727,"y":490},{"id":"d2","k":"o","x":723,"y":480},{"id":"d2","k":"o","x":720,"y":470},{"id":"d2","k":"o","x":720,"y":458},{"id":"d2","k":"o","x":720,"y":447},{"id":"d2","k":"o","x":724,"y":435},{"id":"d2","k":"o","x":730,"y":423},{"id":"d2","k":"o","x":739,"y":414},{"id":"d2","k":"o","x":750,"y":408},{"id":"d2","k":"o","x":765,"y":403},{"id":"d2","k":"o","x":780,"y":400},{"id":"d2","k":"o","x":792,"y":399},{"id":"d2","k":"o","x":803,"y":400},
{"id":"d3","k":"c","x":810,"y":412},{"id":"d3","k":"c","x":837,"y":417},{"id":"d3","k":"c","x":860,"y":427},{"id":"d3","k":"c","x":872,"y":434},{"id":"d3","k":"c","x":880,"y":443},{"id":"d3","k":"c","x":887,"y":453},{"id":"d3","k":"c","x":893,"y":463},{"id":"d3","k":"c","x":896,"y":475},{"id":"d3","k":"c","x":898,"y":487},{"id":"d3","k":"c","x":896,"y":495},{"id":"d3","k":"c","x":893,"y":503},{"id":"d3","k":"c","x":888,"y":515},{"id":"d3","k":"c","x":883,"y":527},{"id":"d3","k":"c","x":876,"y":537},{"id":"d3","k":"c","x":867,"y":547},{"id":"d3","k":"c","x":854,"y":557},{"id":"d3","k":"c","x":840,"y":567},{"id":"d3","k":"c","x":827,"y":573},{"id":"d3","k":"c","x":813,"y":578},{"id":"d3","k":"c","x":798,"y":580},{"id":"d3","k":"c","x":783,"y":578},{"id":"d3","k":"c","x":771,"y":573},{"id":"d3","k":"c","x":760,"y":567},{"id":"d3","k":"c","x":750,"y":559},{"id":"d3","k":"c","x":743,"y":550},{"id":"d3","k":"c","x":739,"y":537},{"id":"d3","k":"c","x":737,"y":523},{"id":"d3","k":"c","x":736,"y":510},{"id":"d3","k":"c","x":735,"y":497},{"id":"d3","k":"c","x":733,"y":485},{"id":"d3","k":"c","x":732,"y":473},{"id":"d3","k":"c","x":730,"y":461},{"id":"d3","k":"c","x":730,"y":450},{"id":"d3","k":"c","x":733,"y":440},{"id":"d3","k":"c","x":737,"y":430},{"id":"d3","k":"c","x":745,"y":423},{"id":"d3","k":"c","x":757,"y":417},{"id":"d3","k":"c","x":770,"y":413},{"id":"d3","k":"c","x":783,"y":412},{"id":"d3","k":"c","x":797,"y":411},{"id":"d3","k":"c","x":810,"y":412},
{"id":"d4","k":"b2","x":800,"y":430},{"id":"d4","k":"b2","x":820,"y":440},{"id":"d4","k":"b2","x":828,"y":448},{"id":"d4","k":"b2","x":833,"y":457},{"id":"d4","k":"b2","x":838,"y":470},{"id":"d4","k":"b2","x":842,"y":483},{"id":"d4","k":"b2","x":843,"y":497},{"id":"d4","k":"b2","x":843,"y":510},{"id":"d4","k":"b2","x":839,"y":524},{"id":"d4","k":"b2","x":833,"y":537},{"id":"d4","k":"b2","x":824,"y":545},{"id":"d4","k":"b2","x":813,"y":550},{"id":"d4","k":"b2","x":802,"y":551},{"id":"d4","k":"b2","x":790,"y":550},{"id":"d4","k":"b2","x":778,"y":546},{"id":"d4","k":"b2","x":767,"y":540},{"id":"d4","k":"b2","x":758,"y":532},{"id":"d4","k":"b2","x":750,"y":523},{"id":"d4","k":"b2","x":744,"y":513},{"id":"d4","k":"b2","x":740,"y":503},{"id":"d4","k":"b2","x":738,"y":490},{"id":"d4","k":"b2","x":739,"y":480},{"id":"d4","k":"b2","x":740,"y":470},{"id":"d4","k":"b2","x":743,"y":460},{"id":"d4","k":"b2","x":747,"y":450},{"id":"d4","k":"b2","x":753,"y":443},{"id":"d4","k":"b2","x":760,"y":437},{"id":"d4","k":"b2","x":770,"y":432},{"id":"d4","k":"b2","x":780,"y":428},{"id":"d4","k":"b2","x":790,"y":428},{"id":"d4","k":"b2","x":800,"y":430},
{"id":"d5","k":"p","x":790,"y":433},{"id":"d5","k":"p","x":800,"y":438},{"id":"d5","k":"p","x":805,"y":445},{"id":"d5","k":"p","x":807,"y":453},{"id":"d5","k":"p","x":810,"y":465},{"id":"d5","k":"p","x":812,"y":477},{"id":"d5","k":"p","x":813,"y":490},{"id":"d5","k":"p","x":813,"y":500},{"id":"d5","k":"p","x":810,"y":512},{"id":"d5","k":"p","x":807,"y":520},{"id":"d5","k":"p","x":798,"y":524},{"id":"d5","k":"p","x":790,"y":525},{"id":"d5","k":"p","x":782,"y":523},{"id":"d5","k":"p","x":773,"y":520},{"id":"d5","k":"p","x":768,"y":515},{"id":"d5","k":"p","x":763,"y":510},{"id":"d5","k":"p","x":757,"y":505},{"id":"d5","k":"p","x":750,"y":500},{"id":"d5","k":"p","x":740,"y":497},{"id":"d5","k":"p","x":742,"y":490},{"id":"d5","k":"p","x":743,"y":480},{"id":"d5","k":"p","x":747,"y":471},{"id":"d5","k":"p","x":750,"y":463},{"id":"d5","k":"p","x":755,"y":456},{"id":"d5","k":"p","x":760,"y":450},{"id":"d5","k":"p","x":767,"y":444},{"id":"d5","k":"p","x":773,"y":440},{"id":"d5","k":"p","x":782,"y":436},{"id":"d5","k":"p","x":790,"y":433},
{"id":"d6","k":"g","x":790,"y":445},{"id":"d6","k":"g","x":792,"y":448},{"id":"d6","k":"g","x":791,"y":456},{"id":"d6","k":"g","x":790,"y":463},{"id":"d6","k":"g","x":787,"y":472},{"id":"d6","k":"g","x":783,"y":480},{"id":"d6","k":"g","x":778,"y":486},{"id":"d6","k":"g","x":773,"y":490},{"id":"d6","k":"g","x":765,"y":491},{"id":"d6","k":"g","x":757,"y":492},{"id":"d6","k":"g","x":749,"y":491},{"id":"d6","k":"g","x":747,"y":487},{"id":"d6","k":"g","x":749,"y":480},{"id":"d6","k":"g","x":753,"y":473},{"id":"d6","k":"g","x":760,"y":463},{"id":"d6","k":"g","x":767,"y":455},{"id":"d6","k":"g","x":773,"y":450},{"id":"d6","k":"g","x":782,"y":447},{"id":"d6","k":"g","x":790,"y":445},
{"id":"d7","k":"b","x":777,"y":457},{"id":"d7","k":"b","x":777,"y":462},{"id":"d7","k":"b","x":775,"y":472},{"id":"d7","k":"b","x":771,"y":478},{"id":"d7","k":"b","x":768,"y":482},{"id":"d7","k":"b","x":762,"y":484},{"id":"d7","k":"b","x":757,"y":483},{"id":"d7","k":"b","x":756,"y":478},{"id":"d7","k":"b","x":758,"y":472},{"id":"d7","k":"b","x":763,"y":465},{"id":"d7","k":"b","x":769,"y":460},{"id":"d7","k":"b","x":777,"y":457}
],
"leaders": [
{"k":"lead","x":130,"y":59,"x2":248,"y2":78},{"k":"lead","x":130,"y":87,"x2":233,"y2":92},{"k":"lead","x":128,"y":114,"x2":217,"y2":107},{"k":"lead","x":128,"y":140,"x2":213,"y2":122},{"k":"lead","x":128,"y":170,"x2":213,"y2":137},{"k":"pl","x":143,"y":240,"x2":207,"y2":150},
{"k":"lead","x":677,"y":59,"x2":797,"y2":78},{"k":"lead","x":678,"y":87,"x2":783,"y2":93},{"k":"lead","x":675,"y":114,"x2":767,"y2":107},{"k":"lead","x":677,"y":140,"x2":763,"y2":122},{"k":"lead","x":677,"y":170,"x2":762,"y2":137},{"k":"pl","x":693,"y":243,"x2":753,"y2":153},
{"k":"lead","x":233,"y":455,"x2":333,"y2":447},{"k":"lead","x":233,"y":483,"x2":320,"y2":462},{"k":"lead","x":233,"y":512,"x2":297,"y2":494},{"k":"pl","x":253,"y":587,"x2":293,"y2":507},
{"k":"lead","x":675,"y":456,"x2":773,"y2":447},{"k":"lead","x":675,"y":483,"x2":760,"y2":465},{"k":"lead","x":675,"y":513,"x2":737,"y2":495},{"k":"pl","x":693,"y":583,"x2":735,"y2":502}
],
"pts": [
{"k":"sq","x":220,"y":137},{"k":"sq","x":768,"y":136},{"k":"sq","x":300,"y":497},{"k":"sq","x":740,"y":497},
{"k":"src","x":215,"y":142},{"k":"src","x":763,"y":141},{"k":"src","x":295,"y":504},{"k":"src","x":735,"y":503},
{"k":"dot","x":323,"y":473},{"k":"dot","x":763,"y":473},
{"k":"isle","x":483,"y":87},{"k":"isle","x":483,"y":100},{"k":"isle","x":458,"y":183},{"k":"isle","x":488,"y":195},{"k":"isle","x":465,"y":190},
{"k":"isle","x":1031,"y":87},{"k":"isle","x":1031,"y":100},{"k":"isle","x":1006,"y":183},{"k":"isle","x":1036,"y":195},{"k":"isle","x":1013,"y":190},
{"k":"isle","x":570,"y":453},{"k":"isle","x":585,"y":478},{"k":"isle","x":563,"y":550},
{"k":"isle","x":987,"y":458},{"k":"isle","x":1012,"y":453},{"k":"isle","x":1000,"y":483},{"k":"isle","x":992,"y":540},{"k":"isle","x":1003,"y":550},{"k":"isle","x":967,"y":593}
],
"labels": [
{"t":"120","k":"r","x":123,"y":58},{"t":"90","k":"r","x":123,"y":87},{"t":"70","k":"r","x":123,"y":114},{"t":"45","k":"r","x":123,"y":143},{"t":"25","k":"r","x":123,"y":172},{"t":"Portal","k":"l","x":90,"y":240},
{"t":"135","k":"m","x":283,"y":68},{"t":"185","k":"m","x":335,"y":128},{"t":"245","k":"m","x":378,"y":124},{"t":"430","k":"m","x":480,"y":131},
{"t":"1.25","k":"r","x":670,"y":57},{"t":"1.55","k":"r","x":670,"y":84},{"t":"1.85","k":"r","x":670,"y":114},{"t":"2.55","k":"r","x":670,"y":142},{"t":"3.55","k":"r","x":670,"y":172},{"t":"Portal","k":"l","x":638,"y":240},
{"t":"1.15","k":"m","x":831,"y":68},{"t":"1.05","k":"m","x":885,"y":128},{"t":"1.03","k":"m","x":928,"y":124},{"t":"1.01","k":"m","x":1030,"y":131},
{"t":"Elliptical (a=90 m , b=55 m)","k":"r","x":227,"y":455},{"t":"Elliptical (a=50 m , b=25 m)","k":"r","x":228,"y":483},{"t":"Elliptical (a=5 m , b=2.5 m)","k":"r","x":224,"y":512},{"t":"Portal","k":"l","x":200,"y":589},
{"t":"50","k":"m","x":370,"y":476},{"t":"90","k":"m","x":397,"y":476},{"t":"150","k":"m","x":443,"y":470},{"t":"230","k":"m","x":458,"y":430},{"t":"290","k":"m","x":522,"y":426},
{"t":"1.22","k":"r","x":665,"y":456},{"t":"1.33","k":"r","x":665,"y":483},{"t":"1.44","k":"r","x":665,"y":513},{"t":"Portal","k":"l","x":640,"y":589},
{"t":"1.01","k":"m","x":937,"y":415},{"t":"1.02","k":"m","x":932,"y":465},{"t":"1.03","k":"m","x":883,"y":470},{"t":"1.06","k":"m","x":837,"y":475},{"t":"1.11","k":"m","x":803,"y":512},
{"t":"(a)\u00a0\u00a0\u00a0Distance from the portal (m) – 10m","k":"cap","x":315,"y":330},
{"t":"(b)\u00a0\u00a0\u00a0CO concentration (ppm) – 10m","k":"cap","x":862,"y":330},
{"t":"(c)\u00a0\u00a0\u00a0Distance from the portal (m) – 20m","k":"cap","x":315,"y":690},
{"t":"(d)\u00a0\u00a0\u00a0CO concentration (ppm) – 20m","k":"cap","x":862,"y":690}
]
},
"layer": [
{
"data": {"name": "lines"},
"mark": {"type": "line", "strokeWidth": 1.2, "clip": true},
"encoding": {
"x": {"field": "x", "type": "quantitative", "scale": {"domain": [0, 1047], "nice": false, "zero": false}, "axis": null},
"y": {"field": "y", "type": "quantitative", "scale": {"domain": [0, 702], "nice": false, "zero": false, "reverse": true}, "axis": null},
"detail": {"field": "id", "type": "nominal"},
"order": {"value": null},
"color": {"field": "k", "type": "nominal", "legend": null,
"scale": {"domain": ["v","p","o","c","l","m","g","b","r","b2","lead","pl"],
"range": ["#a27ee8","#f0959b","#a0a084","#3ed8ef","#8870f0","#e060e0","#40d040","#4050e0","#f06464","#4d78dd","#aab5c3","#a9c3e6"]}}
}
},
{
"data": {"name": "leaders"},
"mark": {"type": "rule", "strokeWidth": 1},
"encoding": {
"x": {"field": "x", "type": "quantitative", "axis": null},
"y": {"field": "y", "type": "quantitative", "axis": null},
"x2": {"field": "x2"},
"y2": {"field": "y2"},
"color": {"field": "k", "type": "nominal", "legend": null}
}
},
{
"data": {"name": "pts"},
"transform": [{"filter": "datum.k === 'isle'"}],
"mark": {"type": "point", "filled": false, "size": 18, "strokeWidth": 1, "color": "#a27ee8"},
"encoding": {
"x": {"field": "x", "type": "quantitative", "axis": null},
"y": {"field": "y", "type": "quantitative", "axis": null}
}
},
{
"data": {"name": "pts"},
"transform": [{"filter": "datum.k === 'sq'"}],
"mark": {"type": "square", "size": 30, "color": "#e01a1a", "opacity": 1},
"encoding": {
"x": {"field": "x", "type": "quantitative", "axis": null},
"y": {"field": "y", "type": "quantitative", "axis": null}
}
},
{
"data": {"name": "pts"},
"transform": [{"filter": "datum.k === 'src'"}],
"mark": {"type": "circle", "size": 10, "color": "#2f6fb8", "opacity": 1},
"encoding": {
"x": {"field": "x", "type": "quantitative", "axis": null},
"y": {"field": "y", "type": "quantitative", "axis": null}
}
},
{
"data": {"name": "pts"},
"transform": [{"filter": "datum.k === 'dot'"}],
"mark": {"type": "circle", "size": 6, "color": "#e06060", "opacity": 1},
"encoding": {
"x": {"field": "x", "type": "quantitative", "axis": null},
"y": {"field": "y", "type": "quantitative", "axis": null}
}
},
{
"data": {"name": "labels"},
"transform": [{"filter": "datum.k === 'r'"}],
"mark": {"type": "text", "align": "right", "baseline": "middle", "font": "Liberation Serif", "fontSize": 18, "color": "#222222"},
"encoding": {
"x": {"field": "x", "type": "quantitative", "axis": null},
"y": {"field": "y", "type": "quantitative", "axis": null},
"text": {"field": "t"}
}
},
{
"data": {"name": "labels"},
"transform": [{"filter": "datum.k === 'l'"}],
"mark": {"type": "text", "align": "left", "baseline": "middle", "font": "Liberation Serif", "fontSize": 18, "color": "#222222"},
"encoding": {
"x": {"field": "x", "type": "quantitative", "axis": null},
"y": {"field": "y", "type": "quantitative", "axis": null},
"text": {"field": "t"}
}
},
{
"data": {"name": "labels"},
"transform": [{"filter": "datum.k === 'm'"}],
"mark": {"type": "text", "align": "center", "baseline": "middle", "font": "Liberation Serif", "fontSize": 18, "color": "#222222"},
"encoding": {
"x": {"field": "x", "type": "quantitative", "axis": null},
"y": {"field": "y", "type": "quantitative", "axis": null},
"text": {"field": "t"}
}
},
{
"data": {"name": "labels"},
"transform": [{"filter": "datum.k === 'cap'"}],
"mark": {"type": "text", "align": "center", "baseline": "middle", "font": "Liberation Serif", "fontSize": 22.5, "color": "#111111"},
"encoding": {
"x": {"field": "x", "type": "quantitative", "axis": null},
"y": {"field": "y", "type": "quantitative", "axis": null},
"text": {"field": "t"}
}
}
]
}
